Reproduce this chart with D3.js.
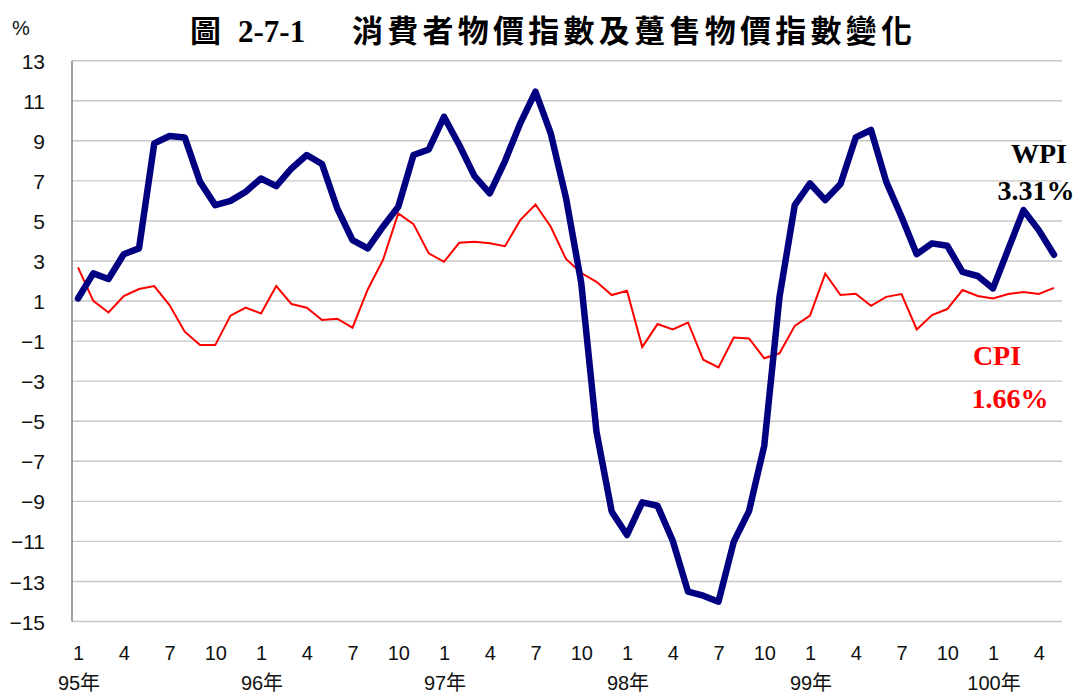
<!DOCTYPE html>
<html><head><meta charset="utf-8">
<script src="https://cdn.jsdelivr.net/npm/d3@7/dist/d3.min.js"></script>
<style>
body{margin:0;background:#fff;}
svg{display:block;}
</style></head>
<body>
<svg id="chart" width="1078" height="695"></svg>
<script>
const yearLabels = ["95年","96年","97年","98年","99年","100年"];
const monthTicks = [1,4,7,10];
const yTicks = [13,11,9,7,5,3,1,-1,-3,-5,-7,-9,-11,-13,-15];
const wpi = [1.13,2.38,2.1,3.34,3.63,8.87,9.24,9.17,6.95,5.79,
  6.0,6.46,7.12,6.74,7.62,8.29,7.84,5.62,4.04,3.63,
  4.71,5.71,8.29,8.57,10.2,8.79,7.24,6.38,7.99,9.87,
  11.45,9.37,6.15,1.9,-5.53,-9.52,-10.68,-9.05,-9.22,-10.97,
  -13.51,-13.71,-14.01,-11.02,-9.49,-6.22,1.2,5.79,6.87,6.04,
  6.84,9.17,9.54,6.95,5.21,3.34,3.88,3.76,2.46,2.25,
  1.63,3.59,5.54,4.54,3.31];
const cpi = [2.68,1.01,0.43,1.25,1.6,1.75,0.8,-0.53,-1.2,-1.2,
  0.27,0.67,0.38,1.75,0.85,0.67,0.05,0.12,-0.33,1.58,
  3.05,5.38,4.84,3.38,2.96,3.91,3.96,3.88,3.74,5.04,
  5.82,4.71,3.1,2.4,1.96,1.3,1.51,-1.3,-0.15,-0.42,
  -0.07,-1.93,-2.31,-0.82,-0.87,-1.86,-1.61,-0.24,0.27,2.37,
  1.3,1.36,0.76,1.21,1.35,-0.42,0.3,0.6,1.55,1.25,
  1.13,1.35,1.45,1.35,1.66];
const titleText = ["圖","2-7-1","消費者物價指數及躉售物價指數變化"];

const svg = d3.select("#chart");
const x = d3.scaleLinear().domain([0, wpi.length-1]).range([78, 1054]);
const y = d3.scaleLinear().domain([-15, 13]).range([621.5, 60.7]);
const plotLeft = 72, plotRight = 1062;

// gridlines
svg.append("g").selectAll("line").data(yTicks.concat([0])).join("line")
  .attr("x1", plotLeft).attr("x2", plotRight)
  .attr("y1", d=>y(d)).attr("y2", d=>y(d))
  .attr("stroke", "#c8c8c8").attr("stroke-width", 1.4);

// left axis line
svg.append("line").attr("x1", plotLeft).attr("x2", plotLeft)
  .attr("y1", y(13)).attr("y2", y(-15)).attr("stroke", "#808080").attr("stroke-width", 1.5);

// y axis labels
const yAxis = d3.axisLeft(y).tickValues(yTicks).tickSize(0).tickPadding(0).tickFormat(d3.format("d"));
const gy = svg.append("g").attr("transform", "translate(45,0)").call(yAxis);
gy.select(".domain").remove();
gy.selectAll("text").attr("font-family", "Liberation Sans, Arial, sans-serif")
  .attr("font-size", 21).attr("fill", "#111").attr("dy", "0.36em");

svg.append("text").attr("x", 12).attr("y", 35).text("%")
  .attr("font-family", "Liberation Sans, Arial, sans-serif").attr("font-size", 20).attr("fill", "#111");

// month ticks
const monthIdx = d3.range(0, wpi.length).filter(i => monthTicks.includes((i % 12) + 1));
const xAxis = d3.axisBottom(x).tickValues(monthIdx).tickSize(0).tickPadding(0)
  .tickFormat(i => (i % 12) + 1);
const gx = svg.append("g").attr("transform", "translate(0,646)").call(xAxis);
gx.select(".domain").remove();
gx.selectAll("text").attr("font-family", "Liberation Sans, Arial, sans-serif")
  .attr("font-size", 20).attr("fill", "#111").attr("dy", "0.72em");

// year labels
svg.append("g").selectAll("text").data(yearLabels).join("text")
  .attr("x", (d,i) => x(i*12) + 1).attr("y", 690)
  .attr("text-anchor", "middle")
  .attr("font-family", "Liberation Sans, 'Noto Sans CJK TC', sans-serif")
  .attr("font-size", 20).attr("fill", "#111")
  .text(d => d);

// lines
const line = d3.line().x((d,i) => x(i)).y(d => y(d));
svg.append("path").datum(cpi).attr("d", line)
  .attr("fill", "none").attr("stroke", "#ff0000").attr("stroke-width", 2)
  .attr("stroke-linejoin", "miter");
svg.append("path").datum(wpi).attr("d", line)
  .attr("fill", "none").attr("stroke", "#000080").attr("stroke-width", 6.5)
  .attr("stroke-linejoin", "round").attr("stroke-linecap", "round");

// title
const tg = svg.append("g").attr("font-weight", "bold").attr("fill", "#000");
tg.append("text").attr("x", 190).attr("y", 42).text(titleText[0])
  .attr("font-family", "'Noto Sans CJK TC', sans-serif").attr("font-size", 31);
tg.append("text").attr("x", 238).attr("y", 42).text(titleText[1])
  .attr("font-family", "'Liberation Serif', 'Times New Roman', serif").attr("font-size", 31);
tg.append("text").attr("x", 352).attr("y", 42).text(titleText[2])
  .attr("font-family", "'Noto Sans CJK TC', sans-serif").attr("font-size", 31)
  .attr("textLength", 560).attr("lengthAdjust", "spacing");

// annotations
const ann = svg.append("g").attr("font-family", "'Liberation Serif', 'Times New Roman', serif")
  .attr("font-weight", "bold").attr("font-size", 28).attr("text-anchor", "middle");
ann.append("text").attr("x", 1039).attr("y", 163).attr("fill", "#000").text("WPI");
ann.append("text").attr("x", 1036).attr("y", 200).attr("fill", "#000").text("3.31%");
ann.append("text").attr("x", 997).attr("y", 365).attr("fill", "#ff0000").text("CPI");
ann.append("text").attr("x", 1010).attr("y", 408).attr("fill", "#ff0000").text("1.66%");
</script>
</body></html>
